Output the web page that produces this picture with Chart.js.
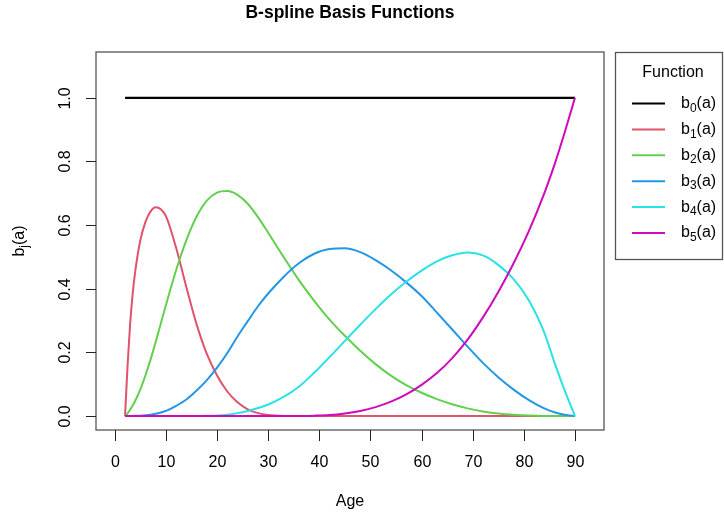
<!DOCTYPE html>
<html>
<head>
<meta charset="utf-8">
<title>B-spline Basis Functions</title>
<script src="https://cdn.jsdelivr.net/npm/chart.js@4.4.1/dist/chart.umd.min.js"></script>
<style>
  html, body { margin: 0; padding: 0; background: #fff; }
  canvas { display: block; }
</style>
</head>
<body>
<canvas id="chart" width="724" height="519"></canvas>
<script>
// values
const ages = [2, 2.5, 3, 3.5, 4, 5, 6, 7, 8, 9, 10,
  12, 14, 16, 18, 20, 22, 24, 26, 28, 30,
  33, 36, 39, 42, 45, 48, 51, 54, 57, 60, 63, 66, 69, 72, 75, 78, 81, 84,
  86, 88, 90];

const b0Ages = [2, 90];
const b0 = [1, 1];

const b1 = [0, 0.16, 0.29, 0.385, 0.455, 0.553, 0.61, 0.643, 0.656, 0.65, 0.628,
  0.528, 0.405, 0.288, 0.195, 0.127, 0.077, 0.043, 0.021, 0.009, 0.003,
  0.0003, 0, 0, 0, 0, 0, 0, 0, 0, 0, 0, 0, 0, 0, 0, 0, 0, 0,
  0, 0, 0];

const b2 = [0, 0.008, 0.02, 0.033, 0.048, 0.084, 0.128, 0.178, 0.233, 0.291, 0.349,
  0.459, 0.553, 0.627, 0.677, 0.702, 0.707, 0.695, 0.667, 0.625, 0.576,
  0.50, 0.427, 0.362, 0.303, 0.252, 0.205, 0.163, 0.127, 0.097, 0.073, 0.053, 0.037, 0.024, 0.014, 0.008, 0.004, 0.0015, 0.0003,
  0, 0, 0];

const b3 = [0, 0, 0.0001, 0.0003, 0.0005, 0.001, 0.002, 0.004, 0.007, 0.011, 0.016,
  0.032, 0.052, 0.08, 0.113, 0.152, 0.198, 0.25, 0.298, 0.345, 0.385,
  0.437, 0.48, 0.51, 0.525, 0.527, 0.515, 0.49, 0.458, 0.42, 0.377, 0.325, 0.272, 0.218, 0.167, 0.122, 0.083, 0.05, 0.024,
  0.012, 0.004, 0];

const b4 = [0, 0, 0, 0, 0, 0, 0, 0, 0, 0, 0,
  0, 0, 0.0002, 0.0006, 0.0015, 0.004, 0.009, 0.016, 0.025, 0.036,
  0.06, 0.092, 0.136, 0.185, 0.236, 0.287, 0.336, 0.382, 0.422, 0.457, 0.486, 0.505, 0.514, 0.505, 0.475, 0.43, 0.363, 0.262,
  0.168, 0.08, 0];

const b5 = [0, 0, 0, 0, 0, 0, 0, 0, 0, 0, 0,
  0, 0, 0, 0, 0, 0, 0, 0, 0, 0,
  0, 0, 0.001, 0.003, 0.008, 0.016, 0.028, 0.045, 0.068, 0.098, 0.135, 0.182, 0.24, 0.31, 0.39, 0.48, 0.582, 0.70,
  0.79, 0.892, 1.0];

const xTicks = [0, 10, 20, 30, 40, 50, 60, 70, 80, 90];
const yTicks = [0, 0.2, 0.4, 0.6, 0.8, 1.0];
const seriesNames = ["0", "1", "2", "3", "4", "5"];
const colors = ["#000000", "#DF536B", "#61D04F", "#2297E6", "#28E2E5", "#CD0BBC"];

const FONT = '"Liberation Sans", Arial, Helvetica, sans-serif';

function pts(xs, ys) {
  return xs.map((x, i) => ({ x, y: ys[i] }));
}

const allSeries = [pts(b0Ages, b0), pts(ages, b1), pts(ages, b2), pts(ages, b3), pts(ages, b4), pts(ages, b5)];

// draw "b" + subscript + "(a)" starting at x, centred vertically on y
function drawBLabel(ctx, sub, x, y, size, align) {
  const subSize = Math.round(size * 0.72);
  ctx.font = `${size}px ${FONT}`;
  const wb = ctx.measureText("b").width;
  const wa = ctx.measureText("(a)").width;
  ctx.font = `${subSize}px ${FONT}`;
  const ws = ctx.measureText(sub).width;
  let x0 = x;
  if (align === "center") x0 = x - (wb + ws + wa) / 2;
  ctx.textAlign = "left";
  ctx.textBaseline = "middle";
  ctx.font = `${size}px ${FONT}`;
  ctx.fillText("b", x0, y);
  ctx.font = `${subSize}px ${FONT}`;
  ctx.fillText(sub, x0 + wb, y + size * 0.3);
  ctx.font = `${size}px ${FONT}`;
  ctx.fillText("(a)", x0 + wb + ws, y);
}

const rAxes = {
  id: "rAxes",
  afterDraw(chart) {
    const { ctx, chartArea: a, scales: { x, y } } = chart;
    ctx.save();
    ctx.fillStyle = "#000";

    // plot box
    ctx.strokeStyle = "#555";
    ctx.lineWidth = 1.3;
    ctx.strokeRect(a.left, a.top, a.right - a.left, a.bottom - a.top);

    // x axis ticks + labels
    ctx.strokeStyle = "#222";
    ctx.lineWidth = 1;
    ctx.font = `16px ${FONT}`;
    ctx.textAlign = "center";
    ctx.textBaseline = "middle";
    xTicks.forEach((t) => {
      const px = Math.round(x.getPixelForValue(t)) + 0.5;
      ctx.beginPath();
      ctx.moveTo(px, a.bottom);
      ctx.lineTo(px, a.bottom + 11);
      ctx.stroke();
      ctx.fillText(String(t), px, a.bottom + 33);
    });

    // y axis ticks + rotated labels
    yTicks.forEach((t) => {
      const py = Math.round(y.getPixelForValue(t)) + 0.5;
      ctx.beginPath();
      ctx.moveTo(a.left, py);
      ctx.lineTo(a.left - 10, py);
      ctx.stroke();
      ctx.save();
      ctx.translate(a.left - 30, py);
      ctx.rotate(-Math.PI / 2);
      ctx.fillText(t.toFixed(1), 0, 0);
      ctx.restore();
    });

    // title
    ctx.font = `bold 17.5px ${FONT}`;
    ctx.fillText("B-spline Basis Functions", (a.left + a.right) / 2, 13);

    // axis titles
    ctx.font = `16px ${FONT}`;
    ctx.fillText("Age", (a.left + a.right) / 2, 502);
    ctx.save();
    ctx.translate(20, (a.top + a.bottom) / 2);
    ctx.rotate(-Math.PI / 2);
    drawBLabel(ctx, "j", 0, 0, 16, "center");
    ctx.restore();

    // legend
    ctx.strokeStyle = "#555";
    ctx.lineWidth = 1.3;
    ctx.strokeRect(615.5, 52.5, 107, 207);
    ctx.font = `16px ${FONT}`;
    ctx.textAlign = "center";
    ctx.fillText("Function", 673, 73);
    seriesNames.forEach((s, i) => {
      const ly = 103.5 + i * 25.9;
      ctx.strokeStyle = colors[i];
      ctx.lineWidth = 2;
      ctx.beginPath();
      ctx.moveTo(632, ly);
      ctx.lineTo(665, ly);
      ctx.stroke();
      drawBLabel(ctx, s, 681, ly, 16, "left");
    });
    ctx.restore();
  }
};

new Chart(document.getElementById("chart"), {
  type: "line",
  data: {
    datasets: allSeries.map((d, i) => ({
      label: "b" + seriesNames[i] + "(a)",
      data: d,
      borderColor: colors[i],
      backgroundColor: colors[i],
      borderWidth: i === 0 ? 2.2 : 2,
      pointRadius: 0,
      fill: false,
      cubicInterpolationMode: "monotone",
      order: 5 - i // later series on top, like R's matplot
    }))
  },
  options: {
    responsive: false,
    devicePixelRatio: 1,
    animation: false,
    layout: { padding: { left: 96, right: 120, top: 52, bottom: 89 } },
    plugins: { legend: { display: false }, tooltip: { enabled: false } },
    scales: {
      x: { type: "linear", min: -3.68, max: 95.68, display: false },
      y: { type: "linear", min: -0.044, max: 1.144, display: false }
    }
  },
  plugins: [rAxes]
});
</script>
</body>
</html>
